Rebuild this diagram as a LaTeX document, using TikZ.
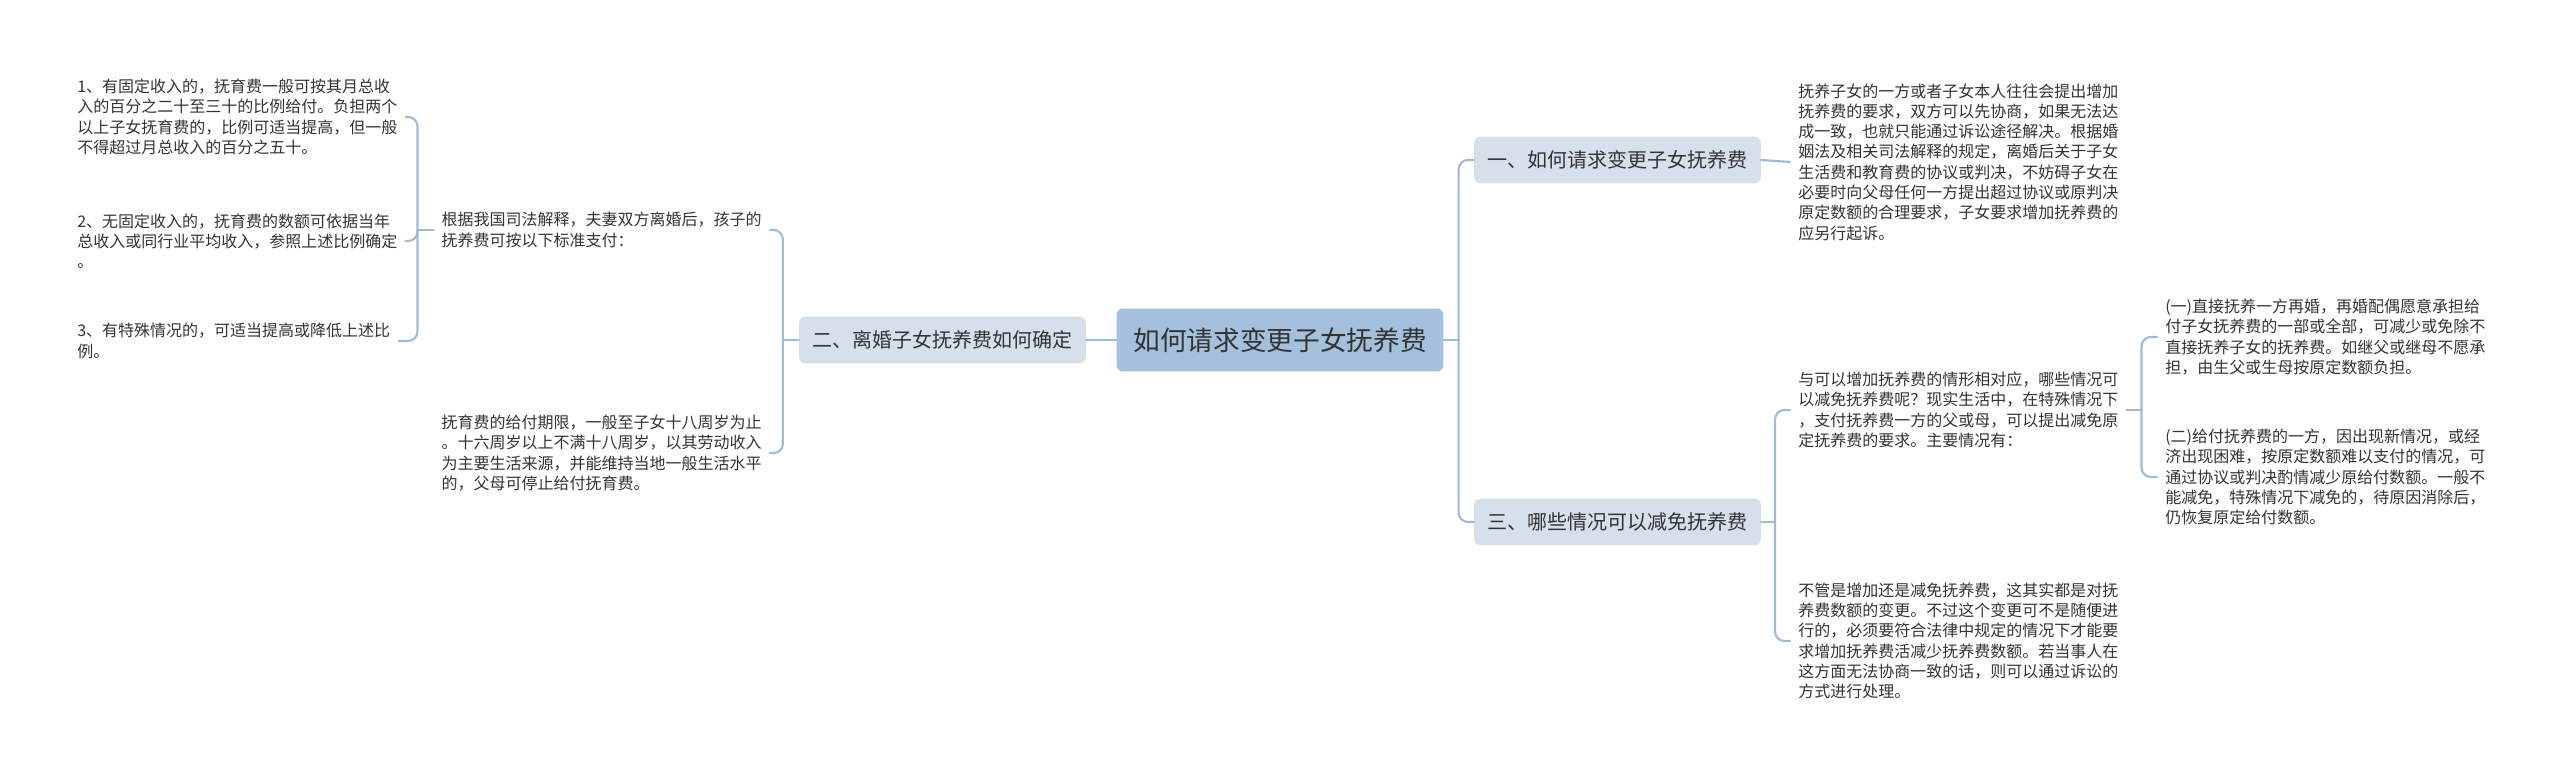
\documentclass[tikz,border=0pt]{standalone}
\usepackage{fontspec}
\setmainfont{Noto Sans CJK SC}
\usetikzlibrary{positioning,calc}
\definecolor{linkblue}{HTML}{A0BAD6}
\definecolor{rootblue}{HTML}{A4C0DD}
\definecolor{branchblue}{HTML}{D5E0EA}
\definecolor{ink}{HTML}{333333}

\begin{document}
\begin{tikzpicture}[
    x=0.75pt,
    y=-0.75pt,
    line cap=round,
    line join=round,
    link/.style={line width=1.6pt,draw=linkblue,rounded corners=7pt},
    root/.style={
        fill=rootblue,
        rounded corners=4.5pt,
        inner sep=0pt,
        minimum width=245pt,
        minimum height=47pt,
        text=ink,
        font=\fontsize{20pt}{24pt}\selectfont
    },
    branch/.style={
        fill=branchblue,
        rounded corners=4.5pt,
        inner sep=0pt,
        minimum width=215pt,
        minimum height=35pt,
        text=ink,
        font=\fontsize{15pt}{18pt}\selectfont
    },
    leaf/.style={
        align=left,
        inner xsep=6pt,
        inner ysep=0pt,
        text=ink,
        font=\fontsize{12pt}{15.2pt}\selectfont
    }
]
\useasboundingbox (0,0) rectangle (2560,777);

\node[root] (root) at (1280,340) {如何请求变更子女抚养费};

% Right side.
\node[branch] (change) at (1617.5,160) {一、如何请求变更子女抚养费};
\node[branch] (reduce) at (1617.5,522) {三、哪些情况可以减免抚养费};

\draw[link] (root.east) -- ++(15,0) coordinate (rjoin);
\draw[link] (rjoin) |- (change.west);
\draw[link] (rjoin) |- (reduce.west);

\node[leaf,anchor=west] (changetxt) at (1790,162) {抚养子女的一方或者子女本人往往会提出增加\\抚养费的要求，双方可以先协商，如果无法达\\成一致，也就只能通过诉讼途径解决。根据婚\\姻法及相关司法解释的规定，离婚后关于子女\\生活费和教育费的协议或判决，不妨碍子女在\\必要时向父母任何一方提出超过协议或原判决\\原定数额的合理要求，子女要求增加抚养费的\\应另行起诉。};
\draw[link] (change.east) -- (changetxt.west);

\node[leaf,anchor=west] (cases) at (1790,410) {与可以增加抚养费的情形相对应，哪些情况可\\以减免抚养费呢？现实生活中，在特殊情况下\\，支付抚养费一方的父或母，可以提出减免原\\定抚养费的要求。主要情况有：};
\node[leaf,anchor=west] (summary) at (1790,641) {不管是增加还是减免抚养费，这其实都是对抚\\养费数额的变更。不过这个变更可不是随便进\\行的，必须要符合法律中规定的情况下才能要\\求增加抚养费活减少抚养费数额。若当事人在\\这方面无法协商一致的话，则可以通过诉讼的\\方式进行处理。};

\draw[link] (reduce.east) -- ++(14,0) coordinate (djoin);
\draw[link] (djoin) |- (cases.west);
\draw[link] (djoin) |- (summary.west);

\node[leaf,anchor=west] (remarry) at (2157,337) {(一)直接抚养一方再婚，再婚配偶愿意承担给\\付子女抚养费的一部或全部，可减少或免除不\\直接抚养子女的抚养费。如继父或继母不愿承\\担，由生父或生母按原定数额负担。};
\node[leaf,anchor=west] (hardship) at (2157,477) {(二)给付抚养费的一方，因出现新情况，或经\\济出现困难，按原定数额难以支付的情况，可\\通过协议或判决酌情减少原给付数额。一般不\\能减免，特殊情况下减免的，待原因消除后，\\仍恢复原定给付数额。};

\draw[link] (cases.east) -- ++(15,0) coordinate (cjoin);
\draw[link] (cjoin) |- (remarry.west);
\draw[link] (cjoin) |- (hardship.west);

% Left side.
\node[branch] (fix) at (942.5,340) {二、离婚子女抚养费如何确定};
\draw[link] (root.west) -- (fix.east);

\node[leaf,anchor=east] (basis) at (770,230) {根据我国司法解释，夫妻双方离婚后，孩子的\\抚养费可按以下标准支付：};
\node[leaf,anchor=east] (period) at (770,453) {抚育费的给付期限，一般至子女十八周岁为止\\。十六周岁以上不满十八周岁，以其劳动收入\\为主要生活来源，并能维持当地一般生活水平\\的，父母可停止给付抚育费。};

\draw[link] (fix.west) -- ++(-16,0) coordinate (ljoin);
\draw[link] (ljoin) |- (basis.east);
\draw[link] (ljoin) |- (period.east);

\node[leaf,anchor=west] (fixed) at (69,117) {1、有固定收入的，抚育费一般可按其月总收\\入的百分之二十至三十的比例给付。负担两个\\以上子女抚育费的，比例可适当提高，但一般\\不得超过月总收入的百分之五十。};
\node[leaf,anchor=west] (unfixed) at (69,241) {2、无固定收入的，抚育费的数额可依据当年\\总收入或同行业平均收入，参照上述比例确定\\。};
\node[leaf,anchor=west] (special) at (69,341) {3、有特殊情况的，可适当提高或降低上述比\\例。};

\draw[link] (basis.west) -- ++(-16,0) coordinate (bjoin);
\draw[link] (bjoin) |- (fixed.east);
\draw[link] (bjoin) |- (unfixed.east);
\draw[link] (bjoin) |- (special.east);

\end{tikzpicture}
\end{document}
